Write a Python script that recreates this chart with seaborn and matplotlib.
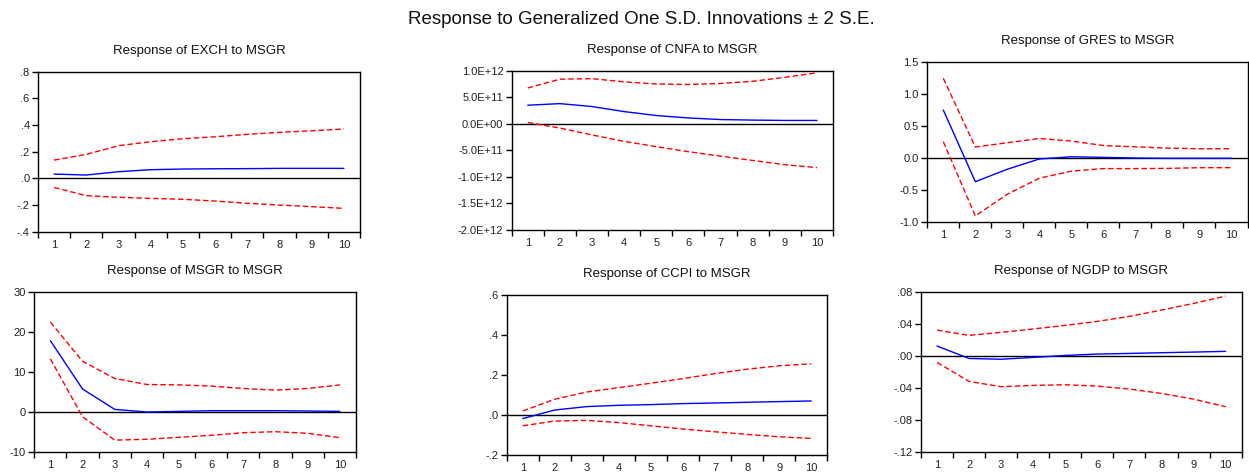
import numpy as np
import pandas as pd
import matplotlib
matplotlib.use("Agg")
import matplotlib.pyplot as plt
from matplotlib.ticker import FixedLocator, FixedFormatter
import seaborn as sns

sns.set_theme(style="white")
plt.rcParams['font.family'] = ['Liberation Sans', 'DejaVu Sans']

periods = list(range(1, 11))

titles = ["Response of EXCH to MSGR", "Response of CNFA to MSGR", "Response of GRES to MSGR",
          "Response of MSGR to MSGR", "Response of CCPI to MSGR", "Response of NGDP to MSGR"]

exch_resp = [0.032, 0.025, 0.05, 0.065, 0.07, 0.072, 0.073, 0.075, 0.075, 0.075]
exch_up = [0.137, 0.18, 0.245, 0.275, 0.297, 0.312, 0.33, 0.345, 0.357, 0.37]
exch_lo = [-0.068, -0.13, -0.142, -0.15, -0.157, -0.17, -0.187, -0.2, -0.212, -0.225]

cnfa_resp = [0.35e12, 0.38e12, 0.325e12, 0.23e12, 0.156e12, 0.11e12, 0.08e12, 0.07e12, 0.063e12, 0.063e12]
cnfa_up = [0.675e12, 0.84e12, 0.85e12, 0.79e12, 0.75e12, 0.74e12, 0.76e12, 0.80e12, 0.875e12, 0.96e12]
cnfa_lo = [0.025e12, -0.08e12, -0.21e12, -0.33e12, -0.43e12, -0.525e12, -0.61e12, -0.69e12, -0.77e12, -0.825e12]

gres_resp = [0.745, -0.375, -0.18, -0.02, 0.015, 0.005, -0.005, -0.01, -0.01, -0.01]
gres_up = [1.24, 0.167, 0.234, 0.30, 0.26, 0.19, 0.17, 0.15, 0.14, 0.14]
gres_lo = [0.25, -0.91, -0.57, -0.32, -0.21, -0.17, -0.17, -0.167, -0.156, -0.156]

msgr_resp = [17.75, 5.67, 0.58, -0.08, 0.08, 0.25, 0.25, 0.25, 0.17, 0.08]
msgr_up = [22.4, 12.6, 8.3, 6.8, 6.7, 6.4, 5.8, 5.4, 5.8, 6.7]
msgr_lo = [13.2, -1.25, -7.1, -6.9, -6.4, -5.9, -5.25, -5.0, -5.4, -6.5]

ccpi_resp = [-0.018, 0.025, 0.042, 0.0485, 0.052, 0.057, 0.06, 0.0636, 0.067, 0.07]
ccpi_up = [0.02, 0.079, 0.115, 0.137, 0.159, 0.182, 0.207, 0.229, 0.246, 0.256]
ccpi_lo = [-0.054, -0.030, -0.027, -0.038, -0.054, -0.07, -0.084, -0.097, -0.109, -0.117]

ngdp_resp = [0.0126, -0.003, -0.004, -0.0017, 0.0008, 0.0025, 0.0033, 0.0042, 0.005, 0.0059]
ngdp_up = [0.0326, 0.026, 0.0297, 0.034, 0.0385, 0.0435, 0.0498, 0.0577, 0.066, 0.0753]
ngdp_lo = [-0.008, -0.0318, -0.0385, -0.0368, -0.036, -0.0377, -0.0414, -0.0469, -0.054, -0.0636]

exch_ticks = [-0.4, -0.2, 0.0, 0.2, 0.4, 0.6, 0.8]
exch_labels = ["-.4", "-.2", ".0", ".2", ".4", ".6", ".8"]
cnfa_ticks = [-2.0e12, -1.5e12, -1.0e12, -0.5e12, 0.0, 0.5e12, 1.0e12]
cnfa_labels = ["-2.0E+12", "-1.5E+12", "-1.0E+12", "-5.0E+11", "0.0E+00", "5.0E+11", "1.0E+12"]
gres_ticks = [-1.0, -0.5, 0.0, 0.5, 1.0, 1.5]
gres_labels = ["-1.0", "-0.5", "0.0", "0.5", "1.0", "1.5"]
msgr_ticks = [-10, 0, 10, 20, 30]
msgr_labels = ["-10", "0", "10", "20", "30"]
ccpi_ticks = [-0.2, 0.0, 0.2, 0.4, 0.6]
ccpi_labels = ["-.2", ".0", ".2", ".4", ".6"]
ngdp_ticks = [-0.12, -0.08, -0.04, 0.0, 0.04, 0.08]
ngdp_labels = ["-.12", "-.08", "-.04", ".00", ".04", ".08"]

panels = [
    (exch_resp, exch_up, exch_lo, exch_ticks, exch_labels),
    (cnfa_resp, cnfa_up, cnfa_lo, cnfa_ticks, cnfa_labels),
    (gres_resp, gres_up, gres_lo, gres_ticks, gres_labels),
    (msgr_resp, msgr_up, msgr_lo, msgr_ticks, msgr_labels),
    (ccpi_resp, ccpi_up, ccpi_lo, ccpi_ticks, ccpi_labels),
    (ngdp_resp, ngdp_up, ngdp_lo, ngdp_ticks, ngdp_labels),
]

W, H = 1249, 472
# axes boxes in pixels: left, right, top, bottom
boxes = [
    (38, 360, 71.7, 231.7),
    (511.7, 833, 70.7, 230),
    (927.3, 1247.5, 61.7, 221.7),
    (34.3, 356, 291.7, 451.7),
    (506.7, 827.3, 295, 455),
    (921, 1241.7, 292.3, 451.7),
]

fig = plt.figure(figsize=(W / 100, H / 100), dpi=100)
fig.text(641 / W, 1 - 19 / H, "Response to Generalized One S.D. Innovations \u00b1 2 S.E.",
         ha="center", va="center", fontsize=13.5, color="#111111")

for (resp, up, lo, ticks, labels), title, (l, r, t, b) in zip(panels, titles, boxes):
    ax = fig.add_axes([l / W, 1 - b / H, (r - l) / W, (b - t) / H])
    df = pd.DataFrame({"period": periods, "resp": resp, "up": up, "lo": lo})
    ax.axhline(0, color="black", lw=1.0, zorder=1)
    sns.lineplot(data=df, x="period", y="up", ax=ax, color="#FF0000", lw=1.0, linestyle=(0, (4, 2)))
    sns.lineplot(data=df, x="period", y="lo", ax=ax, color="#FF0000", lw=1.0, linestyle=(0, (4, 2)))
    sns.lineplot(data=df, x="period", y="resp", ax=ax, color="#0000FF", lw=1.0)
    ax.set_xlim(0.5, 10.5)
    ax.set_ylim(ticks[0], ticks[-1])
    ax.set_xlabel("")
    ax.set_ylabel("")
    ax.xaxis.set_major_locator(FixedLocator(periods))
    ax.xaxis.set_major_formatter(FixedFormatter([str(p) for p in periods]))
    ax.xaxis.set_minor_locator(FixedLocator([p - 0.5 for p in periods] + [10.5]))
    ax.yaxis.set_major_locator(FixedLocator(ticks))
    ax.yaxis.set_major_formatter(FixedFormatter(labels))
    ax.tick_params(axis="x", which="major", length=0, pad=6, labelsize=8, labelcolor="#222222")
    ax.tick_params(axis="x", which="minor", length=4, width=1, color="black", direction="out", bottom=True)
    ax.tick_params(axis="y", which="major", length=4, width=1, color="black", direction="out",
                   left=True, pad=2, labelsize=8, labelcolor="#222222")
    for s in ax.spines.values():
        s.set_color("black")
        s.set_linewidth(1.0)
    ax.text(0.5, 1 + 21 / (b - t), title, transform=ax.transAxes, ha="center", va="center",
            fontsize=9.5, color="#111111")

fig.savefig("out.png", dpi=100)
